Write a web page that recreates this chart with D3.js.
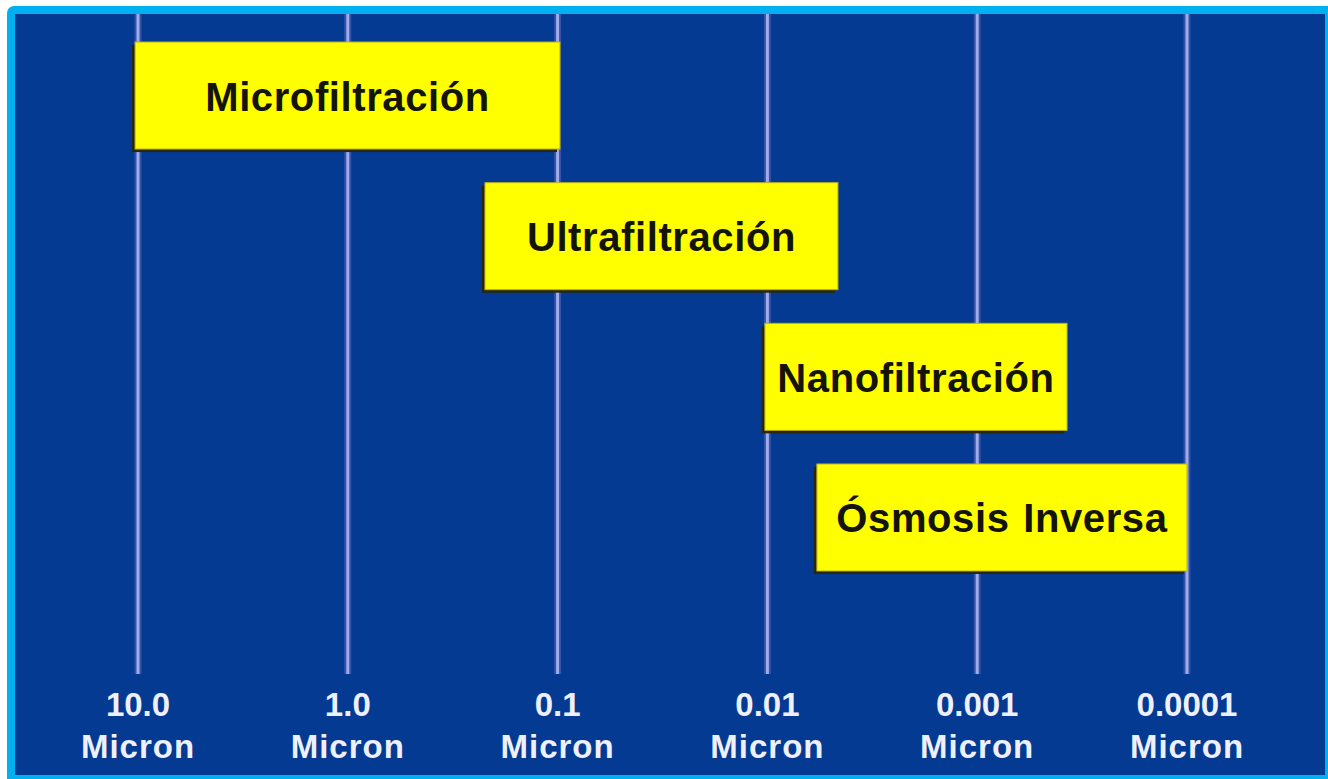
<!DOCTYPE html>
<html>
<head>
<meta charset="utf-8">
<script src="https://cdn.jsdelivr.net/npm/d3@7"></script>
<style>
  html, body { margin: 0; padding: 0; background: #ffffff; }
  svg { display: block; }
</style>
</head>
<body>
<svg id="chart" width="1328" height="779"></svg>
<script>
// ---- Data ----
const categories = ["Microfiltración", "Ultrafiltración", "Nanofiltración", "Ósmosis Inversa"];
const rangeStart = [10.33, 0.222, 0.01028, 0.00581];   // micron (larger pore size, left edge)
const rangeEnd   = [0.0974, 0.00461, 0.000373, 0.0001]; // micron (smaller pore size, right edge)
const tickValues = [10, 1, 0.1, 0.01, 0.001, 0.0001];
const tickLabels = ["10.0", "1.0", "0.1", "0.01", "0.001", "0.0001"];
const unitLabel = "Micron";

// ---- Layout ----
const W = 1328, H = 779;
const svg = d3.select("#chart");

// frame
svg.append("rect").attr("x", 7).attr("y", 6).attr("width", W - 7 + 6).attr("height", H - 6 + 6)
  .attr("rx", 7).attr("fill", "#00b0f0");
svg.append("rect").attr("x", 15).attr("y", 14).attr("width", 1310).attr("height", 761)
  .attr("fill", "#043a91");

const x = d3.scaleLog().domain([10, 0.0001]).range([138, 1187]);
const y = d3.scaleBand().domain(categories).range([42, 571]).paddingInner(0.239).paddingOuter(0);

// grid lines at ticks
const grid = svg.append("g");
grid.selectAll("line.halo").data(tickValues).join("line")
  .attr("class", "halo")
  .attr("x1", d => x(d)).attr("x2", d => x(d))
  .attr("y1", 14).attr("y2", 674)
  .attr("stroke", "#3552a8").attr("stroke-width", 7);
grid.selectAll("line.core").data(tickValues).join("line")
  .attr("class", "core")
  .attr("x1", d => x(d)).attr("x2", d => x(d))
  .attr("y1", 14).attr("y2", 674)
  .attr("stroke", "#9eacea").attr("stroke-width", 3);

// boxes
const boxes = svg.append("g").selectAll("g").data(categories).join("g");
boxes.append("rect")
  .attr("x", (d, i) => x(rangeStart[i]) - 3)
  .attr("y", d => y(d) + 3)
  .attr("width", (d, i) => x(rangeEnd[i]) - x(rangeStart[i]))
  .attr("height", y.bandwidth())
  .attr("fill", "#2a2608");
boxes.append("rect")
  .attr("x", (d, i) => x(rangeStart[i]))
  .attr("y", d => y(d))
  .attr("width", (d, i) => x(rangeEnd[i]) - x(rangeStart[i]))
  .attr("height", y.bandwidth())
  .attr("fill", "#ffff00")
  .attr("stroke", "#b8b020").attr("stroke-width", 1);
boxes.append("text")
  .attr("x", (d, i) => (x(rangeStart[i]) + x(rangeEnd[i])) / 2)
  .attr("y", d => y(d) + y.bandwidth() / 2 + 15)
  .attr("text-anchor", "middle")
  .attr("font-family", "'Liberation Sans', Arial, sans-serif")
  .attr("font-weight", "bold")
  .attr("font-size", 40)
  .attr("letter-spacing", 0.6)
  .attr("word-spacing", 2)
  .attr("fill", "#14140a")
  .text(d => d);

// axis labels
const labels = svg.append("g");
labels.selectAll("text.val").data(tickValues).join("text")
  .attr("class", "val")
  .attr("x", d => x(d)).attr("y", 716)
  .attr("text-anchor", "middle")
  .attr("font-family", "'Liberation Sans', Arial, sans-serif")
  .attr("font-weight", "bold").attr("font-size", 33)
  .attr("fill", "#eef0ff")
  .text((d, i) => tickLabels[i]);
labels.selectAll("text.unit").data(tickValues).join("text")
  .attr("class", "unit")
  .attr("x", d => x(d)).attr("y", 758)
  .attr("text-anchor", "middle")
  .attr("font-family", "'Liberation Sans', Arial, sans-serif")
  .attr("font-weight", "bold").attr("font-size", 33)
  .attr("letter-spacing", 1)
  .attr("fill", "#eef0ff")
  .text(unitLabel);
</script>
</body>
</html>
